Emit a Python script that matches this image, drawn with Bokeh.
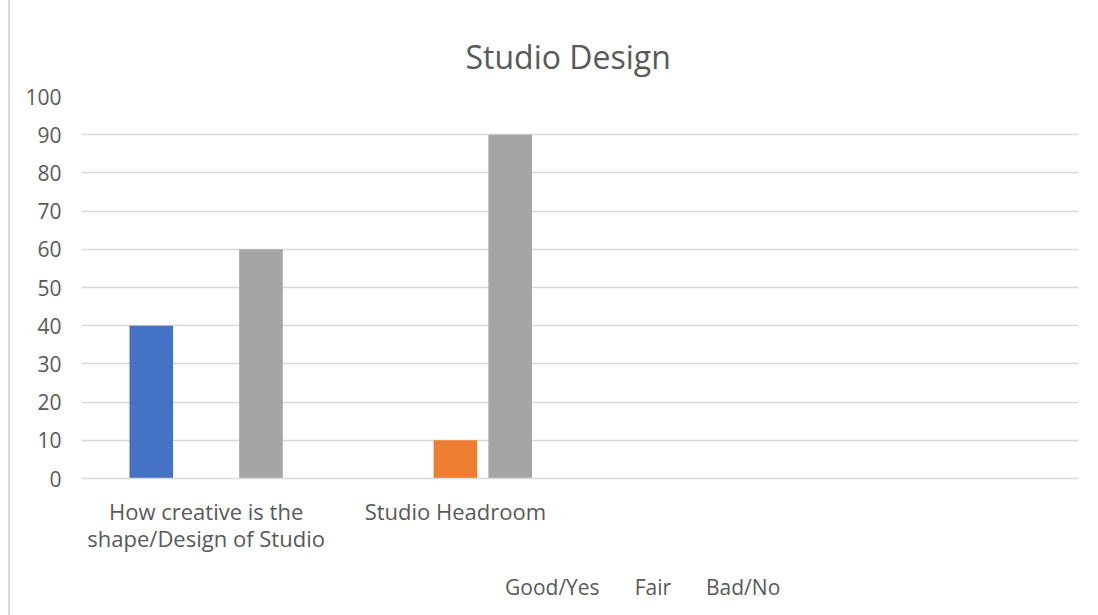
from bokeh.plotting import figure
from bokeh.layouts import column
from bokeh.models import ColumnDataSource, FactorRange, Range1d, Legend, LegendItem, SingleIntervalTicker
from bokeh.transform import dodge
from bokeh.embed import file_html
from bokeh.resources import INLINE

title = "Studio Design"
categories = ["How creative is the\nshape/Design of Studio", "Studio Headroom", " ", "  "]
data_categories = ["How creative is the\nshape/Design of Studio", "Studio Headroom"]
series_names = ["Good/Yes", "Fair", "Bad/No"]
good = [40, 0]
fair = [0, 10]
bad = [60, 90]
colors = ["#4472C4", "#ED7D31", "#A5A5A5"]

FONT = "Open Sans"
TXT = "#595959"
GRID = "#d9d9d9"

source = ColumnDataSource(dict(cat=data_categories, good=good, fair=fair, bad=bad))

p = figure(
    x_range=FactorRange(*categories, range_padding=0, factor_padding=0),
    y_range=Range1d(0, 100),
    width=1088, height=560,
    output_backend="svg", toolbar_location=None,
    min_border_left=71, min_border_right=20, min_border_top=96, min_border_bottom=82,
)
p.outline_line_color = None
p.background_fill_color = "white"
p.border_fill_color = "white"

p.title.text = title
p.title.text_font = FONT
p.title.text_font_size = "32px"
p.title.text_font_style = "normal"
p.title.text_color = TXT
p.title.align = "left"
p.title.offset = 384
p.title.standoff = 37

keys = ["good", "fair", "bad"]
offsets = [-0.22, 0.0, 0.22]
for k, off, c in zip(keys, offsets, colors):
    p.vbar(x=dodge("cat", off, range=p.x_range), top=k, bottom=0, width=0.175,
           source=source, fill_color=c, line_color=None)

# y axis
p.yaxis.ticker = SingleIntervalTicker(interval=10)
p.yaxis.axis_line_color = None
p.yaxis.major_tick_line_color = None
p.yaxis.minor_tick_line_color = None
p.yaxis.major_tick_out = 0
p.yaxis.major_label_standoff = 16
p.yaxis.major_label_text_font = FONT
p.yaxis.major_label_text_font_size = "21px"
p.yaxis.major_label_text_color = TXT

# x axis
p.xaxis.axis_line_color = GRID
p.xaxis.axis_line_width = 1.5
p.xaxis.major_tick_line_color = None
p.xaxis.minor_tick_line_color = None
p.xaxis.major_tick_out = 0
p.xaxis.major_label_standoff = 17
p.xaxis.major_label_text_font = FONT
p.xaxis.major_label_text_font_size = "22px"
p.xaxis.major_label_text_color = TXT
p.xaxis.major_label_text_line_height = 0.9

p.xgrid.grid_line_color = None
p.ygrid.grid_line_color = GRID
p.ygrid.grid_line_width = 1.5

# legend strip below the chart
lf = figure(
    width=1088, height=55, x_range=(0, 1), y_range=(0, 1),
    x_axis_type=None, y_axis_type=None,
    output_backend="svg", toolbar_location=None, min_border=0,
)
lf.outline_line_color = None
lf.grid.visible = False
lf.border_fill_color = "white"
lf.background_fill_color = "white"
legend_renderers = [lf.vbar(x=[], top=[], width=0.1, fill_color=c, line_color=None) for c in colors]

legend = Legend(
    items=[LegendItem(label=n, renderers=[r]) for n, r in zip(series_names, legend_renderers)],
    orientation="horizontal",
    location=(406, 14),
    label_text_font=FONT,
    label_text_font_size="21px",
    label_text_color=TXT,
    glyph_width=13, glyph_height=12,
    label_standoff=5,
    label_width=0,
    spacing=17,
    padding=0, margin=0,
    border_line_color=None,
    background_fill_alpha=0,
)
lf.add_layout(legend, "center")

layout = column(p, lf, spacing=0,
                styles={"border-left": "2px solid #d9d9d9", "margin-left": "8px"})

open("out.html", "w").write(file_html(layout, INLINE))
